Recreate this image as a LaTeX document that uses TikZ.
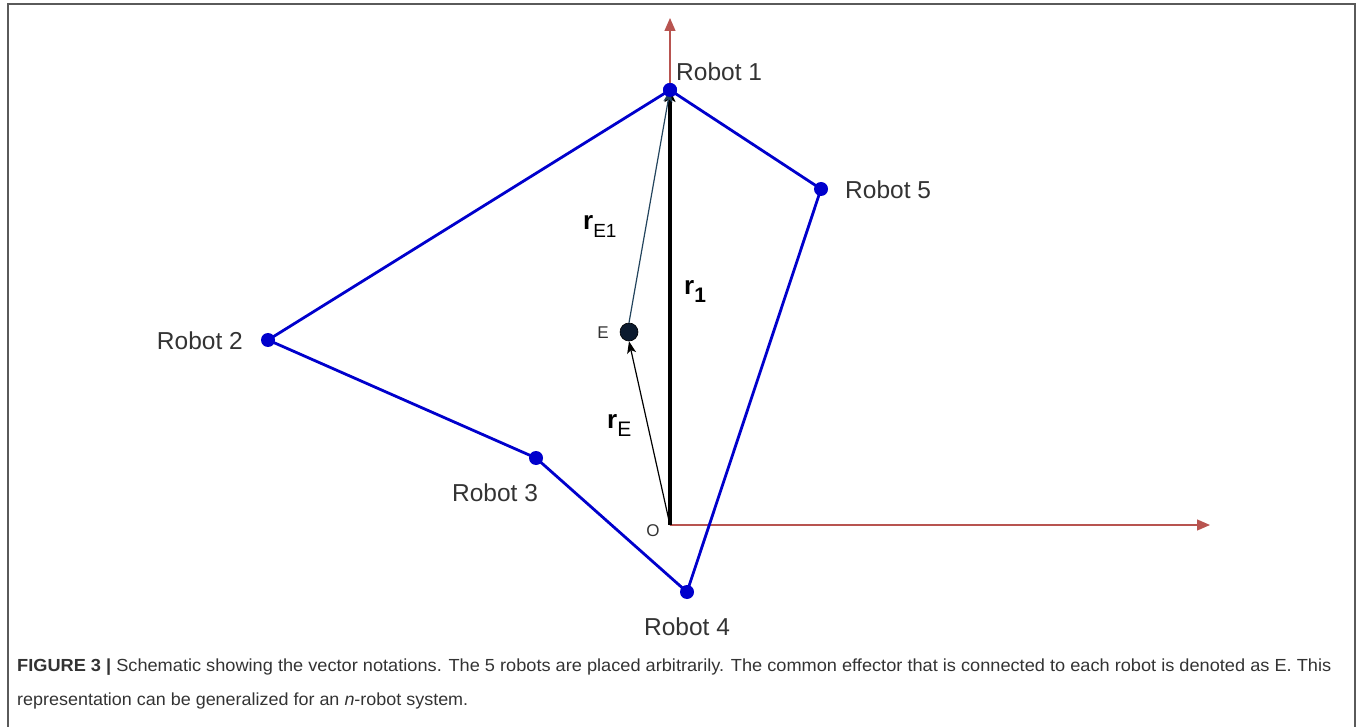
\documentclass[tikz,border=0pt]{standalone}
\usepackage{fontspec}
\setmainfont{Liberation Sans}
\usetikzlibrary{arrows.meta}
\definecolor{axisred}{HTML}{B85450}
\definecolor{robotblue}{HTML}{0000CC}
\definecolor{framegray}{HTML}{5A5A5A}
\definecolor{labelgray}{HTML}{333333}
\definecolor{edgenavy}{HTML}{23445D}
\definecolor{dotnavy}{HTML}{0B1A2E}
\tikzset{
  robotdot/.style={circle, fill=robotblue, inner sep=0pt, minimum size=14pt},
  effdot/.style={circle, fill=dotnavy, draw=black, line width=0.6pt, inner sep=0pt, minimum size=18pt},
  link/.style={robotblue, line width=2.8pt},
  axis/.style={axisred, line width=1.3pt, -{Triangle[length=13pt,width=11pt]}},
  lbl/.style={text=labelgray, font=\fontsize{24.5}{26}\selectfont, inner sep=0pt},
  small/.style={text=labelgray, font=\fontsize{17}{18}\selectfont, inner sep=0pt},
  vec/.style={text=black, font=\fontsize{26}{28}\selectfont, inner sep=0pt},
  captext/.style={text=labelgray, anchor=west, inner sep=0pt, font=\fontsize{17.5}{19}\selectfont}
}
\begin{document}
\begin{tikzpicture}[x=1pt,y=-1pt]
\useasboundingbox (0,0) rectangle (1363,727);
\draw[framegray, line width=1.6pt] (8,727) -- (8,4) -- (1355,4) -- (1355,727);

% points
\node[robotdot] (r1) at (670,90) {};
\node[robotdot] (r5) at (821,189) {};
\node[robotdot] (r2) at (268,340) {};
\node[robotdot] (r3) at (536,458) {};
\node[robotdot] (r4) at (687,592) {};
\coordinate (O) at (670,525);
\coordinate (ytip) at (670,18);
\coordinate (xtip) at (1210,525);

% axes
\draw[axis] (O) -- (ytip);
\draw[axis] (O) -- (xtip);

% polygon links
\draw[link] (r1.center) -- (r5.center) -- (r4.center) -- (r3.center) -- (r2.center) -- cycle;

% effector
\node[effdot] (E) at (629,332) {};

% vectors
\draw[black, line width=3.2pt, -{Stealth[length=12pt,width=11pt,inset=3pt]}] (O) -- (r1.center);
\draw[black, line width=1.2pt, -{Stealth[length=12pt,width=9pt,inset=3pt]}] (O) -- (E.south);
\draw[edgenavy, line width=1.2pt, -{Stealth[length=12pt,width=9pt,inset=3pt]}] (E.north) -- (r1.center);

% dots on top
\node[robotdot] at (r1) {};

% labels
\node[lbl, anchor=west] (l1) at (676,72) {Robot 1};
\node[lbl, anchor=west] (l5) at (845,190) {Robot 5};
\node[lbl, anchor=east] (l2) at (243,341) {Robot 2};
\node[lbl] (l3) at (495,493) {Robot 3};
\node[lbl] (l4) at (687,627) {Robot 4};
\node[small] (lE) at (603,333) {E};
\node[small] (lO) at (653,531) {O};
\node[vec, anchor=west] (vE1) at (583,226) {\textbf{r}\raisebox{-8pt}{\fontsize{19}{19}\selectfont E1}};
\node[vec, anchor=west] (v1) at (684,291) {\textbf{r}\raisebox{-8pt}{\fontsize{21}{21}\selectfont\textbf{1}}};
\node[vec, anchor=west] (vE) at (607,425) {\textbf{r}\raisebox{-8pt}{\fontsize{21}{21}\selectfont E}};

% caption
\node[captext] (c1) at (17,667) {\resizebox{1314pt}{\height}{\textbf{FIGURE 3 |} Schematic showing the vector notations. The 5 robots are placed arbitrarily. The common effector that is connected to each robot is denoted as E. This}};
\node[captext] (c2) at (17,701) {\resizebox{451pt}{\height}{representation can be generalized for an \textit{n}-robot system.}};
\end{tikzpicture}
\end{document}
